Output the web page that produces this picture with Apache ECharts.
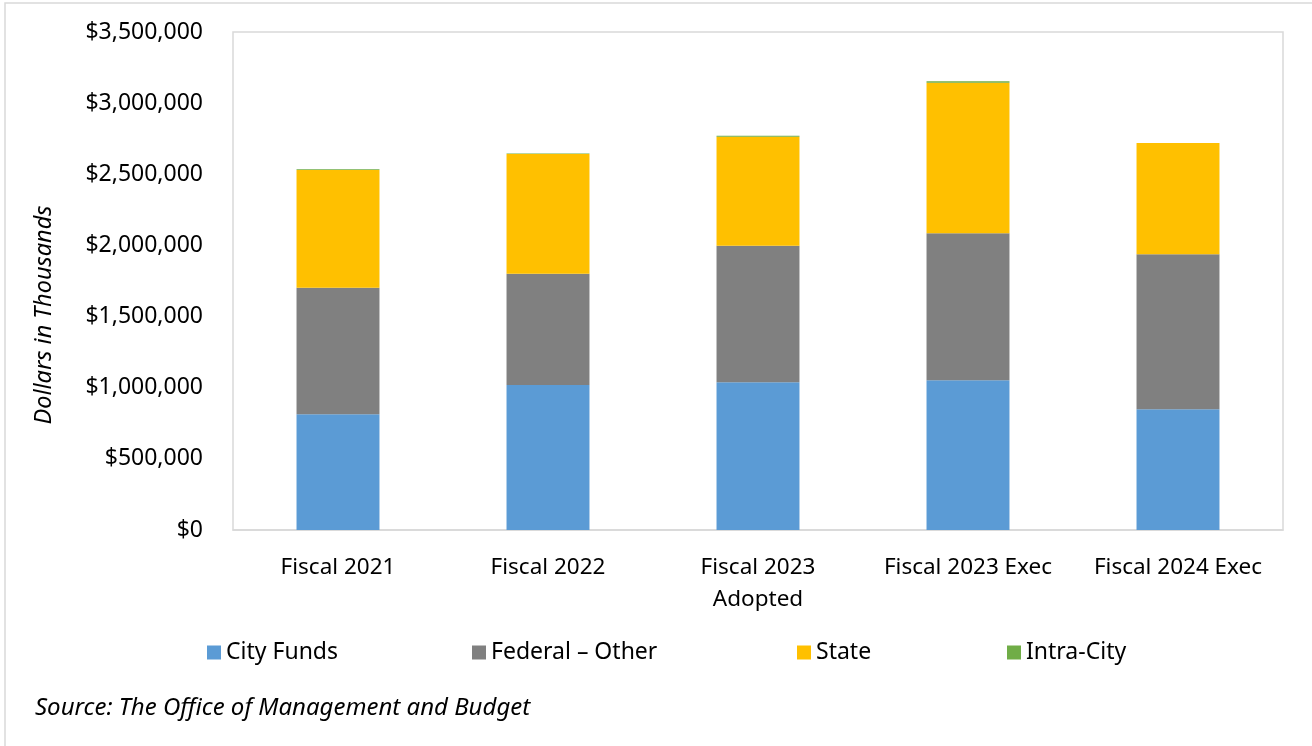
<!DOCTYPE html>
<html>
<head>
<meta charset="utf-8">
<script src="https://cdn.jsdelivr.net/npm/echarts@6/dist/echarts.min.js"></script>
<style>
  html, body { margin: 0; padding: 0; background: #fff; }
  #chart { width: 1312px; height: 746px; }
</style>
</head>
<body>
<div id="chart"></div>
<script>
const categories = ['Fiscal 2021', 'Fiscal 2022', 'Fiscal 2023\nAdopted', 'Fiscal 2023 Exec', 'Fiscal 2024 Exec']
const cityFunds = [813000, 1019000, 1038000, 1052000, 848000]
const federalOther = [890000, 782000, 960000, 1033000, 1090000]
const state = [827000, 841000, 766000, 1059000, 782000]
const intraCity = [6000, 4000, 7000, 9000, 0]
const seriesNames = ['City Funds', 'Federal – Other', 'State', 'Intra-City']

const FONT = '"Noto Sans", "Open Sans", sans-serif'

const chart = echarts.init(document.getElementById('chart'))

const makeSeries = (name, data, color) => {
    return {
        name: name,
        type: 'bar',
        stack: 'total',
        data: data,
        barWidth: '39.5%',
        itemStyle: { color: color },
        emphasis: { disabled: true }
    }
}

// one legend per item so each sits where Excel put it
const legendLefts = [202, 467, 792, 1002]
const legends = seriesNames.map((name, i) => {
    return {
        top: 636,
        left: legendLefts[i],
        itemWidth: 14,
        itemHeight: 14,
        icon: 'rect',
        selectedMode: false,
        textStyle: { color: '#000', fontSize: 23, fontFamily: FONT },
        data: [name]
    }
})

chart.setOption({
    animation: false,
    textStyle: { fontFamily: FONT },
    grid: {
        left: 233,
        right: 29,
        top: 32,
        bottom: 216,
        show: true,
        borderColor: '#d9d9d9',
        borderWidth: 1.5
    },
    xAxis: {
        type: 'category',
        data: categories,
        axisLine: { lineStyle: { color: '#d9d9d9', width: 1.5 } },
        axisTick: { show: false },
        axisLabel: {
            interval: 0,
            hideOverlap: false,
            color: '#000',
            fontSize: 22.5,
            margin: 22,
            lineHeight: 32,
            fontFamily: FONT
        }
    },
    yAxis: {
        type: 'value',
        min: 0,
        max: 3500000,
        interval: 500000,
        splitLine: { show: false },
        axisLine: { show: false },
        axisTick: { show: false },
        axisLabel: {
            color: '#000',
            fontSize: 23,
            margin: 30,
            fontFamily: FONT,
            formatter: v => '$' + v.toLocaleString('en-US')
        }
    },
    legend: legends,
    graphic: [
        {
            type: 'rect',
            shape: { x: 5, y: 3, width: 1320, height: 760 },
            style: { fill: 'none', stroke: '#d9d9d9', lineWidth: 1.5 },
            silent: true
        },
        {
            type: 'text',
            x: 44,
            y: 315,
            rotation: Math.PI / 2,
            style: {
                text: 'Dollars in Thousands',
                fontSize: 23.5,
                fontStyle: 'italic',
                fontFamily: FONT,
                fill: '#000',
                align: 'center',
                verticalAlign: 'middle'
            }
        },
        {
            type: 'text',
            left: 35,
            top: 696,
            style: {
                text: 'Source: The Office of Management and Budget',
                fontSize: 24,
                fontStyle: 'italic',
                fontFamily: FONT,
                fill: '#000'
            }
        }
    ],
    series: [
        makeSeries(seriesNames[0], cityFunds, '#5b9bd5'),
        makeSeries(seriesNames[1], federalOther, '#808080'),
        makeSeries(seriesNames[2], state, '#ffc000'),
        makeSeries(seriesNames[3], intraCity, '#70ad47')
    ]
})
</script>
</body>
</html>
